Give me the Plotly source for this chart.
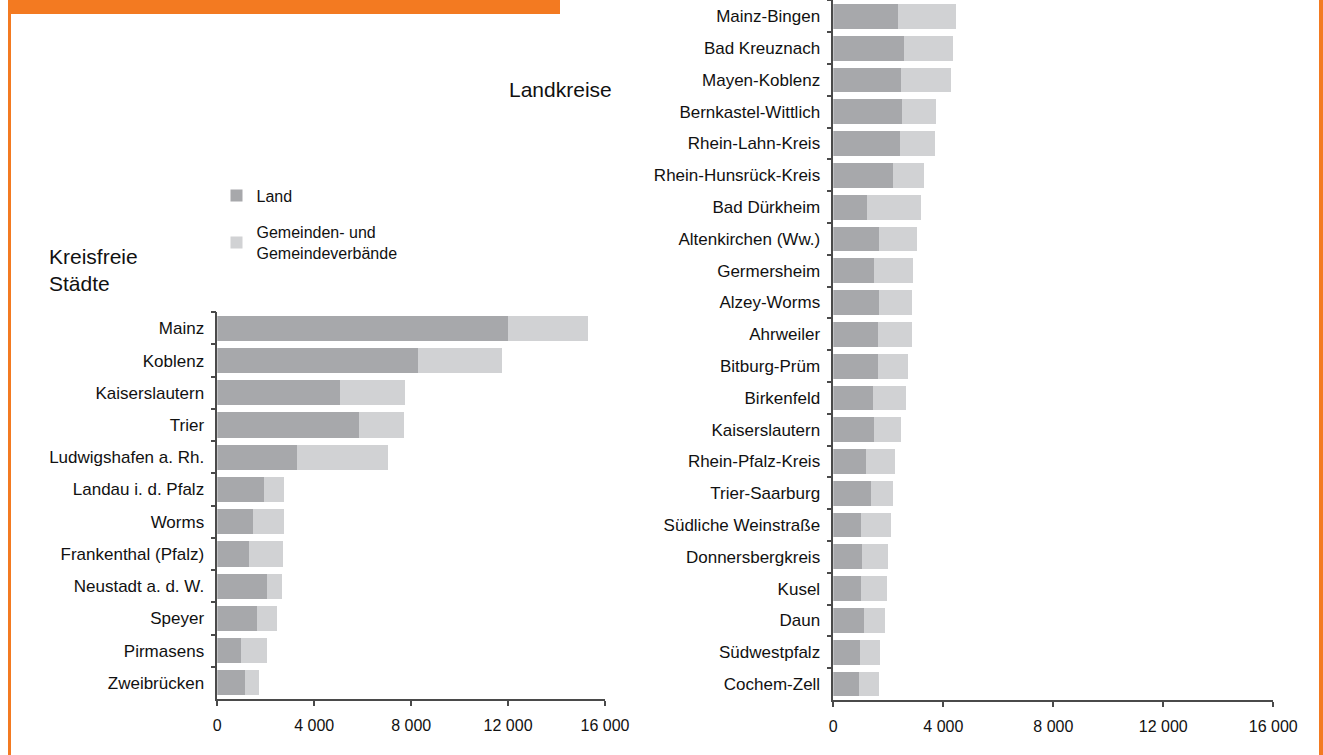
import plotly.graph_objects as go

# ---------------- data ----------------
staedte = ["Mainz", "Koblenz", "Kaiserslautern", "Trier", "Ludwigshafen a. Rh.",
           "Landau i. d. Pfalz", "Worms", "Frankenthal (Pfalz)", "Neustadt a. d. W.",
           "Speyer", "Pirmasens", "Zweibrücken"]
staedte_land = [12000, 8300, 5050, 5830, 3300, 1940, 1490, 1320, 2070, 1650, 990, 1160]
staedte_gem = [3290, 3440, 2680, 1860, 3730, 830, 1280, 1410, 620, 830, 1080, 580]

kreise = ["Mainz-Bingen", "Bad Kreuznach", "Mayen-Koblenz", "Bernkastel-Wittlich",
          "Rhein-Lahn-Kreis", "Rhein-Hunsrück-Kreis", "Bad Dürkheim", "Altenkirchen (Ww.)",
          "Germersheim", "Alzey-Worms", "Ahrweiler", "Bitburg-Prüm", "Birkenfeld",
          "Kaiserslautern", "Rhein-Pfalz-Kreis", "Trier-Saarburg", "Südliche Weinstraße",
          "Donnersbergkreis", "Kusel", "Daun", "Südwestpfalz", "Cochem-Zell"]
kreise_land = [2350, 2570, 2460, 2500, 2430, 2170, 1230, 1660, 1480, 1660, 1630, 1630,
               1440, 1480, 1190, 1370, 1010, 1040, 1010, 1120, 970, 940]
kreise_gem = [2110, 1780, 1820, 1240, 1270, 1130, 1960, 1380, 1420, 1200, 1230, 1090,
              1200, 980, 1050, 800, 1090, 950, 940, 760, 730, 720]

series_names = ["Land", "Gemeinden- und<br>Gemeindeverbände"]
tick_vals = [0, 4000, 8000, 12000, 16000]
tick_text = ["0", "4 000", "8 000", "12 000", "16 000"]

title_left = "Kreisfreie<br>Städte"
title_right = "Landkreise"

# ---------------- style ----------------
W, H = 1323, 755
C_LAND = "#A7A8AB"
C_GEM = "#D1D2D4"
ORANGE = "#F37A21"
AX = "#4a4a4a"
TXT = "#111111"
FONT = "Liberation Sans, Arial, Helvetica, sans-serif"

def px_x(p):
    return p / W

def px_y(p):
    return 1 - p / H

fig = go.Figure()

fig.add_trace(go.Bar(y=staedte, x=staedte_land, orientation="h", name=series_names[0],
                     marker=dict(color=C_LAND, line=dict(width=0)),
                     xaxis="x", yaxis="y", legendgroup="land", showlegend=True))
fig.add_trace(go.Bar(y=staedte, x=staedte_gem, orientation="h", name=series_names[1],
                     marker=dict(color=C_GEM, line=dict(width=0)),
                     xaxis="x", yaxis="y", legendgroup="gem", showlegend=True))
fig.add_trace(go.Bar(y=kreise, x=kreise_land, orientation="h", name=series_names[0],
                     marker=dict(color=C_LAND, line=dict(width=0)),
                     xaxis="x2", yaxis="y2", legendgroup="land", showlegend=False))
fig.add_trace(go.Bar(y=kreise, x=kreise_gem, orientation="h", name=series_names[1],
                     marker=dict(color=C_GEM, line=dict(width=0)),
                     xaxis="x2", yaxis="y2", legendgroup="gem", showlegend=False))

xcommon = dict(range=[0, 16000], tickvals=tick_vals, ticktext=tick_text,
               showline=True, linecolor=AX, linewidth=1.5, ticks="outside",
               ticklen=5, tickwidth=1.5, tickcolor=AX, showgrid=False, zeroline=False,
               tickfont=dict(size=16, color=TXT, family=FONT),
               ticklabelstandoff=6, fixedrange=True, automargin=False)
ycommon = dict(type="category", showline=True, linecolor=AX, linewidth=1.5,
               ticks="outside", ticklen=5, tickwidth=1.5, tickcolor=AX,
               tickson="boundaries", showgrid=False, zeroline=False,
               tickfont=dict(size=17, color=TXT, family=FONT),
               ticklabelstandoff=8, fixedrange=True, automargin=False)

fig.update_layout(
    width=W, height=H, autosize=False,
    margin=dict(l=0, r=0, t=0, b=0, pad=0),
    paper_bgcolor="white", plot_bgcolor="white",
    font=dict(family=FONT, size=16, color=TXT),
    barmode="stack", bargap=0.22,
    xaxis=dict(domain=[px_x(217.3), px_x(605)], anchor="y", **xcommon),
    yaxis=dict(domain=[px_y(699), px_y(312.2)], anchor="x",
               categoryorder="array", categoryarray=staedte,
               range=[len(staedte) - 0.5, -0.5], **ycommon),
    xaxis2=dict(domain=[px_x(833.3), px_x(1273.3)], anchor="y2", **xcommon),
    yaxis2=dict(domain=[px_y(700), px_y(0.4)], anchor="x2",
                categoryorder="array", categoryarray=kreise,
                range=[len(kreise) - 0.5, -0.5], **ycommon),
    legend=dict(x=px_x(216.5), y=px_y(178.5), xanchor="left", yanchor="top",
                traceorder="grouped", tracegroupgap=13,
                font=dict(size=16, color=TXT, family=FONT),
                bgcolor="rgba(0,0,0,0)", borderwidth=0),
    showlegend=True,
)

fig.add_annotation(x=px_x(47), y=px_y(243), xref="paper", yref="paper",
                   xanchor="left", yanchor="top", align="left", showarrow=False,
                   text=title_left, font=dict(size=21, color=TXT, family=FONT))
fig.add_annotation(x=px_x(507), y=px_y(90), xref="paper", yref="paper",
                   xanchor="left", yanchor="middle", align="left", showarrow=False,
                   text=title_right, font=dict(size=21, color=TXT, family=FONT))

# orange frame
fig.add_shape(type="rect", xref="paper", yref="paper", x0=px_x(8), x1=px_x(560),
              y0=px_y(14), y1=1, fillcolor=ORANGE, line=dict(width=0), layer="above")
fig.add_shape(type="rect", xref="paper", yref="paper", x0=px_x(8), x1=px_x(11),
              y0=0, y1=1, fillcolor=ORANGE, line=dict(width=0), layer="above")
fig.add_shape(type="rect", xref="paper", yref="paper", x0=px_x(1319), x1=px_x(1323),
              y0=0, y1=1, fillcolor=ORANGE, line=dict(width=0), layer="above")

fig.write_html("out.html",
               config={"displayModeBar": False},
               post_script="document.body.style.margin='0';"
                           "document.body.style.overflow='hidden';")
